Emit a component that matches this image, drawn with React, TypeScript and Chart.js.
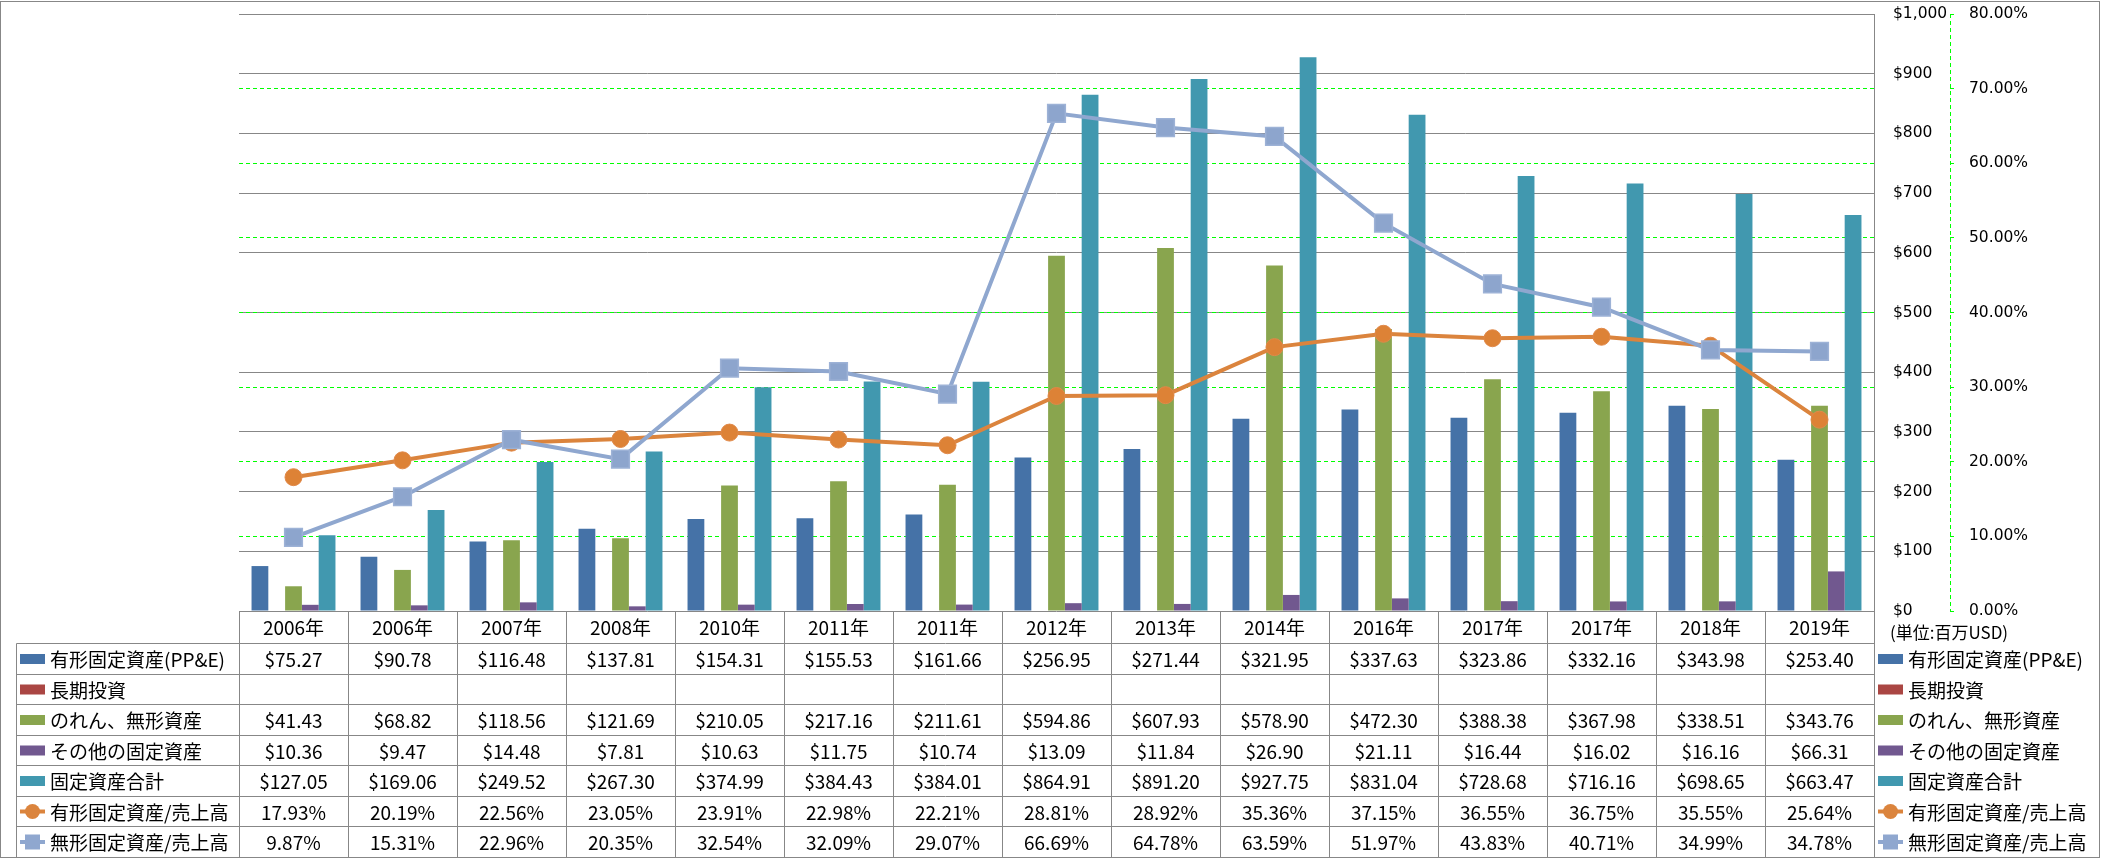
import React, { useEffect, useRef } from "react";
import { Chart, registerables } from "chart.js";

Chart.register(...registerables);

const categories = ["2006年", "2006年", "2007年", "2008年", "2010年", "2011年", "2011年", "2012年", "2013年", "2014年", "2016年", "2017年", "2017年", "2018年", "2019年"];
const ppe = [75.27, 90.78, 116.48, 137.81, 154.31, 155.53, 161.66, 256.95, 271.44, 321.95, 337.63, 323.86, 332.16, 343.98, 253.4];
const longTermInv: (number | null)[] = [null, null, null, null, null, null, null, null, null, null, null, null, null, null, null];
const goodwill = [41.43, 68.82, 118.56, 121.69, 210.05, 217.16, 211.61, 594.86, 607.93, 578.9, 472.3, 388.38, 367.98, 338.51, 343.76];
const otherFixed = [10.36, 9.47, 14.48, 7.81, 10.63, 11.75, 10.74, 13.09, 11.84, 26.9, 21.11, 16.44, 16.02, 16.16, 66.31];
const totalFixed = [127.05, 169.06, 249.52, 267.3, 374.99, 384.43, 384.01, 864.91, 891.2, 927.75, 831.04, 728.68, 716.16, 698.65, 663.47];
const ppeRatio = [17.93, 20.19, 22.56, 23.05, 23.91, 22.98, 22.21, 28.81, 28.92, 35.36, 37.15, 36.55, 36.75, 35.55, 25.64];
const intangibleRatio = [9.87, 15.31, 22.96, 20.35, 32.54, 32.09, 29.07, 66.69, 64.78, 63.59, 51.97, 43.83, 40.71, 34.99, 34.78];

const seriesNames = ["有形固定資産(PP&E)", "長期投資", "のれん、無形資産", "その他の固定資産", "固定資産合計", "有形固定資産/売上高", "無形固定資産/売上高"];
const seriesColors = ["#4572A7", "#AA4643", "#89A54E", "#71588F", "#4198AF", "#DB843D", "#8FA7CF"];
const unitLabel = "(単位:百万USD)";

const GRID = "#878787";
const GREEN = "#00ff00";
const TABLE_FONT = '19px "Noto Sans CJK JP", "Noto Sans", sans-serif';

type Row = { name: string; color: string; kind: "bar" | "circle" | "rect"; values: (number | null)[]; fmt: (v: number) => string };

const money = (v: number) => "$" + v.toFixed(2);
const pct = (v: number) => v.toFixed(2) + "%";

const rows: Row[] = [
  { name: seriesNames[0], color: seriesColors[0], kind: "bar", values: ppe, fmt: money },
  { name: seriesNames[1], color: seriesColors[1], kind: "bar", values: longTermInv, fmt: money },
  { name: seriesNames[2], color: seriesColors[2], kind: "bar", values: goodwill, fmt: money },
  { name: seriesNames[3], color: seriesColors[3], kind: "bar", values: otherFixed, fmt: money },
  { name: seriesNames[4], color: seriesColors[4], kind: "bar", values: totalFixed, fmt: money },
  { name: seriesNames[5], color: seriesColors[5], kind: "circle", values: ppeRatio, fmt: pct },
  { name: seriesNames[6], color: seriesColors[6], kind: "rect", values: intangibleRatio, fmt: pct },
];

function drawKey(ctx: CanvasRenderingContext2D, row: Row, x: number, cy: number) {
  ctx.save();
  if (row.kind === "bar") {
    ctx.fillStyle = row.color;
    ctx.fillRect(x, cy - 5, 25, 10);
  } else {
    ctx.strokeStyle = row.color;
    ctx.lineWidth = 4;
    ctx.beginPath();
    ctx.moveTo(x, cy);
    ctx.lineTo(x + 25, cy);
    ctx.stroke();
    ctx.fillStyle = row.color;
    if (row.kind === "circle") {
      ctx.beginPath();
      ctx.arc(x + 12.5, cy, 7.5, 0, Math.PI * 2);
      ctx.fill();
    } else {
      ctx.fillRect(x + 5, cy - 7.5, 15, 15);
    }
  }
  ctx.restore();
}

const tablePlugin = {
  id: "dataTable",
  afterDraw(chart: any) {
    const { ctx, chartArea, scales } = chart;
    const xs = scales.x;
    const n = categories.length;
    const cw = xs.getPixelForValue(1) - xs.getPixelForValue(0);
    const right = chartArea.right;
    const top = chartArea.bottom;
    const headerBottom = top + 32;
    const rowH = 30.57;
    const legendLeft = 16;
    const rowY = (k: number) => Math.round(headerBottom + k * rowH) + 0.5;

    ctx.save();
    ctx.strokeStyle = GRID;
    ctx.lineWidth = 1;
    ctx.setLineDash([]);
    for (let k = 0; k <= rows.length; k++) {
      const y = rowY(k);
      ctx.beginPath();
      ctx.moveTo(legendLeft + 0.5, y);
      ctx.lineTo(right + 0.5, y);
      ctx.stroke();
    }
    for (let i = 0; i <= n; i++) {
      const x = Math.round(xs.getPixelForValue(0) - cw / 2 + i * cw) + 0.5;
      ctx.beginPath();
      ctx.moveTo(x, top);
      ctx.lineTo(x, rowY(rows.length));
      ctx.stroke();
    }
    ctx.beginPath();
    ctx.moveTo(legendLeft + 0.5, rowY(0));
    ctx.lineTo(legendLeft + 0.5, rowY(rows.length));
    ctx.stroke();

    ctx.fillStyle = "#000";
    ctx.font = TABLE_FONT;
    ctx.textBaseline = "middle";
    ctx.textAlign = "center";
    for (let i = 0; i < n; i++) {
      const cx = xs.getPixelForValue(i);
      ctx.fillText(categories[i], cx, (top + headerBottom) / 2 + 1);
      rows.forEach((row, k) => {
        const v = row.values[i];
        if (v !== null && v !== undefined) {
          ctx.fillText(row.fmt(v), cx, (rowY(k) + rowY(k + 1)) / 2 + 1);
        }
      });
    }
    ctx.textAlign = "left";
    rows.forEach((row, k) => {
      const cy = (rowY(k) + rowY(k + 1)) / 2;
      drawKey(ctx, row, legendLeft + 4, cy);
      ctx.fillStyle = "#000";
      ctx.fillText(row.name, legendLeft + 34, cy + 1);
      drawKey(ctx, row, right + 4, cy);
      ctx.fillStyle = "#000";
      ctx.fillText(row.name, right + 34, cy + 1);
    });

    ctx.font = '17px "Noto Sans CJK JP", sans-serif';
    ctx.fillText(unitLabel, right + 16, (top + headerBottom) / 2 + 6);

    const y1 = scales.y1;
    ctx.strokeStyle = GREEN;
    ctx.setLineDash([4, 3]);
    ctx.beginPath();
    ctx.moveTo(Math.round(y1.left) + 0.5, chartArea.top);
    ctx.lineTo(Math.round(y1.left) + 0.5, chartArea.bottom);
    ctx.stroke();

    ctx.setLineDash([]);
    ctx.strokeStyle = GRID;
    ctx.strokeRect(0.5, 1.5, chart.width - 2, chart.height - 2);
    ctx.restore();
  },
};

export default function App() {
  const ref = useRef<HTMLCanvasElement | null>(null);
  useEffect(() => {
    if (!ref.current) return;
    const barDs = (i: number, data: (number | null)[]) => ({
      type: "bar" as const,
      label: seriesNames[i],
      data,
      backgroundColor: seriesColors[i],
      borderWidth: 0,
      categoryPercentage: 0.77,
      barPercentage: 1.0,
      yAxisID: "y",
      order: 3,
    });
    const fixPad = (w: number) => (s: any) => {
      s.width = w;
      s.paddingTop = 0;
      s.paddingBottom = 0;
    };
    const chart = new Chart(ref.current, {
      type: "bar",
      data: {
        labels: categories,
        datasets: [
          barDs(0, ppe),
          barDs(1, longTermInv),
          barDs(2, goodwill),
          barDs(3, otherFixed),
          barDs(4, totalFixed),
          {
            type: "line",
            label: seriesNames[5],
            data: ppeRatio,
            borderColor: seriesColors[5],
            backgroundColor: seriesColors[5],
            borderWidth: 4,
            pointStyle: "circle",
            pointRadius: 8.5,
            pointBackgroundColor: "#DD8236",
            pointBorderColor: "#E0894A",
            pointBorderWidth: 1,
            tension: 0,
            yAxisID: "y1",
            order: 2,
          } as any,
          {
            type: "line",
            label: seriesNames[6],
            data: intangibleRatio,
            borderColor: seriesColors[6],
            backgroundColor: seriesColors[6],
            borderWidth: 4,
            pointStyle: "rect",
            pointRadius: 12.5,
            pointBackgroundColor: "#8DA5CD",
            pointBorderColor: "#9DB2D6",
            pointBorderWidth: 1.5,
            tension: 0,
            yAxisID: "y1",
            order: 1,
          } as any,
        ],
      },
      options: {
        responsive: false,
        animation: false,
        devicePixelRatio: 1,
        layout: { padding: { left: 239, top: 13, right: 51, bottom: 247 } },
        plugins: {
          legend: { display: false },
          tooltip: { enabled: false },
          title: { display: false },
        },
        scales: {
          x: { display: false, offset: true, grid: { display: false } },
          y: {
            position: "right",
            min: 0,
            max: 1000,
            ticks: {
              stepSize: 100,
              padding: 19,
              color: "#000",
              font: { family: "DejaVu Sans", size: 15.5 },
              callback: (v: any) => "$" + Number(v).toLocaleString("en-US"),
            },
            grid: { color: GRID, drawTicks: false, lineWidth: 1 },
            border: { display: true, color: GRID, width: 1 },
            afterFit: fixPad(76),
          },
          y1: {
            position: "right",
            min: 0,
            max: 80,
            ticks: {
              stepSize: 10,
              padding: 15,
              color: "#000",
              font: { family: "DejaVu Sans", size: 15.5 },
              callback: (v: any) => Number(v).toFixed(2) + "%",
            },
            grid: {
              color: (c: any) => (c.tick && (c.tick.value === 0 || c.tick.value === 80) ? "rgba(0,0,0,0)" : GREEN),
              tickColor: GREEN,
              tickLength: 4,
              drawTicks: true,
              lineWidth: 1,
            },
            border: { display: false, dash: [4, 3] },
            afterFit: fixPad(100),
          },
        },
      } as any,
      plugins: [tablePlugin],
    });
    return () => chart.destroy();
  }, []);
  return (
    <div style={{ position: "fixed", left: 0, top: 0, width: 2101, height: 858, background: "#fff" }}>
      <canvas ref={ref} width={2101} height={858} style={{ display: "block" }} />
    </div>
  );
}
